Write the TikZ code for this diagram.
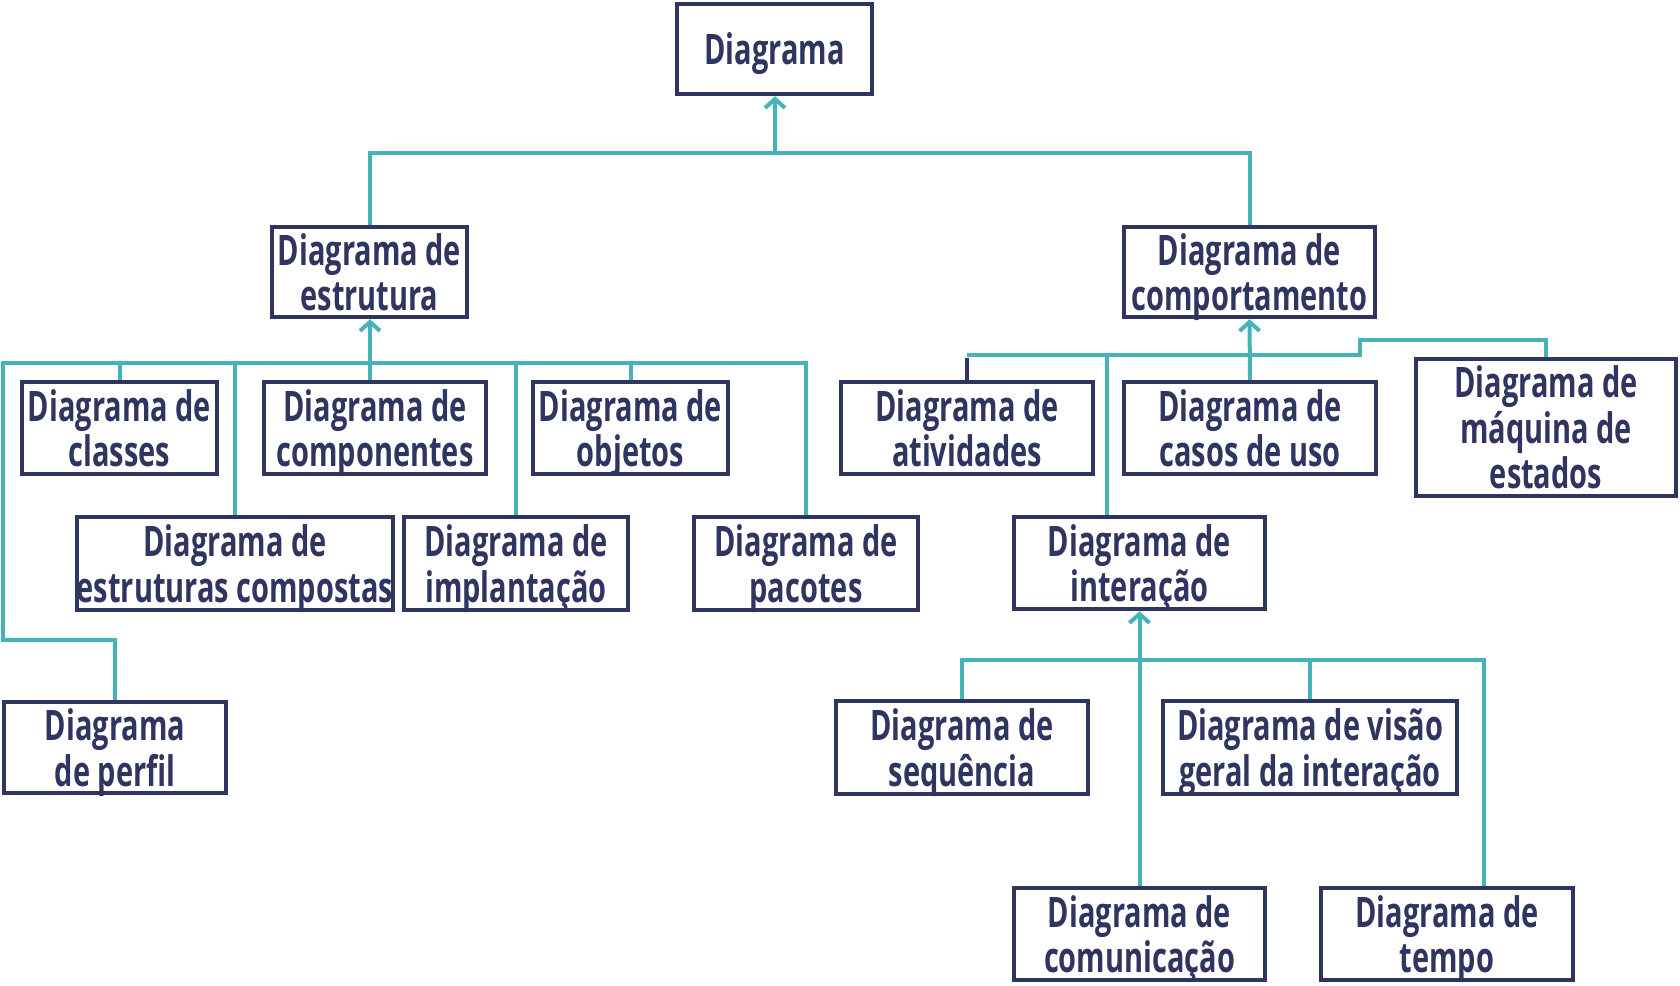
\documentclass[tikz,border=0pt]{standalone}
\usepackage{fontspec}
\newfontfamily\boxfont{Open Sans}[FakeStretch=0.69]
\usetikzlibrary{arrows.meta}
\definecolor{navy}{HTML}{2E3560}
\definecolor{teal}{HTML}{45B3B8}
\tikzset{
  box/.style={draw=navy, line width=4.5pt, fill=white, inner sep=0pt, align=center,
    text depth=0pt,
    text=navy, font=\boxfont\bfseries\fontsize{42}{45.5}\selectfont},
  conn/.style={draw=teal, line width=4pt},
  darkconn/.style={draw=navy, line width=4pt},
  arr/.style={-{Straight Barb[length=9pt,width=20pt]}},
}
\begin{document}
\begin{tikzpicture}[x=1pt,y=-1pt]
\useasboundingbox[fill=white] (0,0) rectangle (1680,985);
% nodes
\node[box, minimum width=195pt, minimum height=90pt] (diag) at (774.5,49) {Diagrama};
\node[box, minimum width=195pt, minimum height=90pt] (estr) at (369.5,272) {Diagrama de\\estrutura};
\node[box, minimum width=251pt, minimum height=90pt] (comp) at (1249.5,272) {Diagrama de\\comportamento};
\node[box, minimum width=195pt, minimum height=92pt] (classes) at (119.5,428) {Diagrama de\\classes};
\node[box, minimum width=222pt, minimum height=92pt] (compon) at (375,428) {Diagrama de\\componentes};
\node[box, minimum width=195pt, minimum height=92pt] (objetos) at (630.5,428) {Diagrama de\\objetos};
\node[box, minimum width=316pt, minimum height=93pt] (estrcomp) at (235,563.5) {Diagrama de\\estruturas compostas};
\node[box, minimum width=224pt, minimum height=93pt] (implant) at (516,563.5) {Diagrama de\\implantação};
\node[box, minimum width=224pt, minimum height=93pt] (pacotes) at (806,563.5) {Diagrama de\\pacotes};
\node[box, minimum width=222pt, minimum height=91pt] (perfil) at (115,747.5) {Diagrama\\de perfil};
\node[box, minimum width=252pt, minimum height=92pt] (ativ) at (967,428) {Diagrama de\\atividades};
\node[box, minimum width=252pt, minimum height=92pt] (casos) at (1250,428) {Diagrama de\\casos de uso};
\node[box, minimum width=260pt, minimum height=137pt] (maq) at (1546,427.5) {Diagrama de\\máquina de\\estados};
\node[box, minimum width=251pt, minimum height=92pt] (inter) at (1139.5,563) {Diagrama de\\interação};
\node[box, minimum width=252pt, minimum height=93pt] (seq) at (962,747.5) {Diagrama de\\sequência};
\node[box, minimum width=294pt, minimum height=93pt] (visao) at (1310,747.5) {Diagrama de visão\\geral da interação};
\node[box, minimum width=251pt, minimum height=92pt] (comun) at (1139.5,934) {Diagrama de\\comunicação};
\node[box, minimum width=252pt, minimum height=92pt] (tempo) at (1447,934) {Diagrama de\\tempo};
% junctions
\coordinate (j0) at (775,153);
\coordinate (j1) at (370,363);
\coordinate (j2) at (1249.5,355);
\coordinate (j3) at (1139.5,660);
% top group
\draw[conn, arr] (j0) -- (j0 |- diag.south);
\draw[conn] (estr.north) |- (j0) -| (comp.north);
% structure group
\draw[conn, arr] (j1) -- (j1 |- estr.south);
\draw[conn] (j1) -- (j1 |- compon.north);
\draw[conn] (classes.north) |- (j1);
\draw[conn] (estrcomp.north) |- (j1);
\draw[conn] (implant.north) |- (j1);
\draw[conn] (objetos.north) |- (j1);
\draw[conn] (pacotes.north) |- (j1);
\draw[conn] (perfil.north) |- (3,640) |- (j1);
% behaviour group
\draw[darkconn] (ativ.north) -- ([yshift=-3pt]ativ.north |- j2);
\draw[conn] (ativ.north |- j2) -- (1360,355) -- (1360,340) -| (maq.north);
\draw[conn] ([xshift=-32.5pt]inter.north) |- (j2);
\draw[conn, arr] (casos.north) -- (comp.south);
% interaction group
\draw[conn, arr] (comun.north) -- (inter.south);
\draw[conn] (seq.north) |- (j3);
\draw[conn] (visao.north) |- (j3);
\draw[conn] ([xshift=37pt]tempo.north) |- (j3);
\end{tikzpicture}
\end{document}
